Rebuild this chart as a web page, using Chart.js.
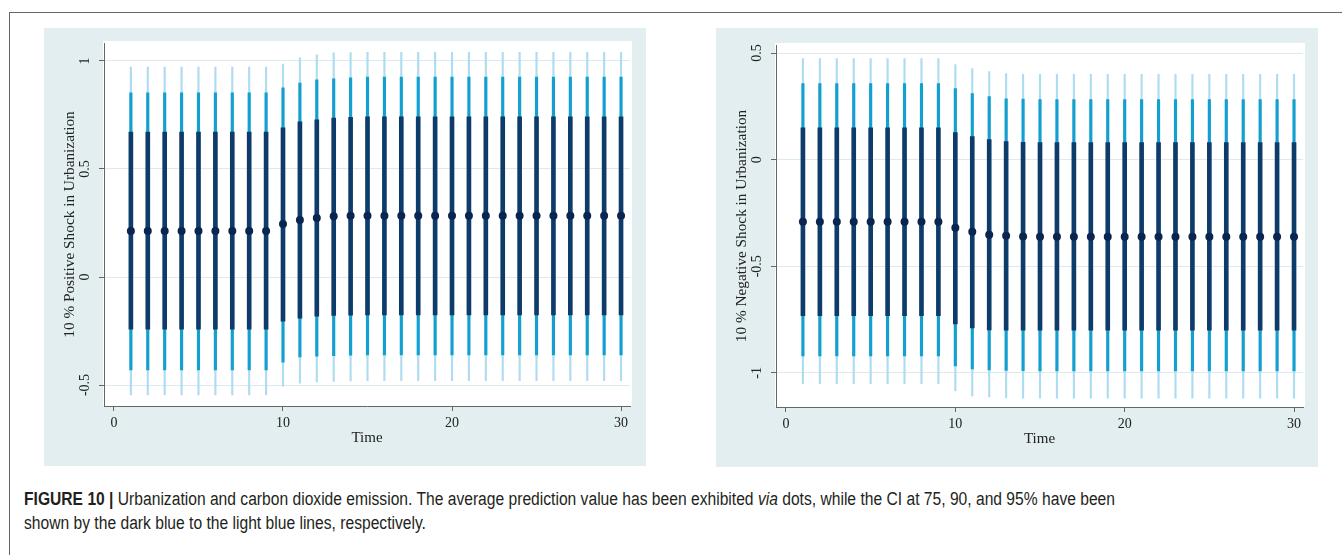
<!DOCTYPE html>
<html>
<head>
<meta charset="utf-8">
<script src="https://cdn.jsdelivr.net/npm/chart.js@4.4.0/dist/chart.umd.min.js"></script>
<style>
  body { margin: 0; background: #fff; width: 1342px; height: 555px; overflow: hidden; position: relative; }
  .frame-top { position: absolute; left: 9px; top: 12px; width: 1333px; border-top: 1px solid #666; }
  .frame-left { position: absolute; left: 9px; top: 12px; height: 543px; border-left: 1px solid #666; }
  canvas { position: absolute; background: #e2eef0; }
  #posChart { left: 44px; top: 28px; }
  #negChart { left: 716px; top: 28px; }
  .caption { position: absolute; left: 24px; font-family: 'Liberation Sans Narrow', 'Liberation Sans', Arial, sans-serif;
             font-size: 18px; line-height: 20px; color: #231f20; white-space: nowrap; transform-origin: 0 0; }
</style>
</head>
<body>
<div class="frame-top"></div>
<div class="frame-left"></div>
<canvas id="posChart" width="602" height="438"></canvas>
<canvas id="negChart" width="602" height="439"></canvas>
<div class="caption" id="cap1" style="top:489px"><b>FIGURE 10 |</b> Urbanization and carbon dioxide emission. The average prediction value has been exhibited <i>via</i> dots, while the CI at 75, 90, and 95% have been</div>
<div class="caption" id="cap2" style="top:513px">shown by the dark blue to the light blue lines, respectively.</div>
<script>
// horizon (time)
const periods = [1, 2, 3, 4, 5, 6, 7, 8, 9, 10, 11, 12, 13, 14, 15, 16, 17, 18, 19, 20, 21, 22, 23, 24, 25, 26, 27, 28, 29, 30];
const xTicks = [0, 10, 20, 30];

// 10 % positive shock
const posYTicks = [-0.5, 0, 0.5, 1];
const posMean = [0.213, 0.213, 0.213, 0.213, 0.213, 0.213, 0.213, 0.213, 0.213, 0.245, 0.264, 0.273, 0.281, 0.283, 0.284, 0.284, 0.284, 0.284, 0.284, 0.284, 0.284, 0.284, 0.284, 0.284, 0.284, 0.284, 0.284, 0.284, 0.284, 0.284];
const posLo75 = [-0.241, -0.241, -0.241, -0.241, -0.241, -0.241, -0.241, -0.241, -0.241, -0.204, -0.190, -0.181, -0.178, -0.177, -0.176, -0.176, -0.176, -0.176, -0.176, -0.176, -0.176, -0.176, -0.176, -0.176, -0.176, -0.176, -0.176, -0.176, -0.176, -0.176];
const posHi75 = [0.671, 0.671, 0.671, 0.671, 0.671, 0.671, 0.671, 0.671, 0.671, 0.690, 0.718, 0.727, 0.736, 0.739, 0.741, 0.741, 0.741, 0.741, 0.741, 0.741, 0.741, 0.741, 0.741, 0.741, 0.741, 0.741, 0.741, 0.741, 0.741, 0.741];
const posLo90 = [-0.430, -0.430, -0.430, -0.430, -0.430, -0.430, -0.430, -0.430, -0.430, -0.394, -0.370, -0.366, -0.364, -0.362, -0.361, -0.361, -0.361, -0.361, -0.361, -0.361, -0.361, -0.361, -0.361, -0.361, -0.361, -0.361, -0.361, -0.361, -0.361, -0.361];
const posHi90 = [0.852, 0.852, 0.852, 0.852, 0.852, 0.852, 0.852, 0.852, 0.852, 0.875, 0.898, 0.912, 0.917, 0.922, 0.925, 0.925, 0.925, 0.925, 0.925, 0.925, 0.925, 0.925, 0.925, 0.925, 0.925, 0.925, 0.925, 0.925, 0.925, 0.925];
const posLo95 = [-0.546, -0.546, -0.546, -0.546, -0.546, -0.546, -0.546, -0.546, -0.546, -0.505, -0.491, -0.486, -0.483, -0.481, -0.480, -0.480, -0.480, -0.480, -0.480, -0.480, -0.480, -0.480, -0.480, -0.480, -0.480, -0.480, -0.480, -0.480, -0.480, -0.480];
const posHi95 = [0.972, 0.972, 0.972, 0.972, 0.972, 0.972, 0.972, 0.972, 0.972, 0.986, 1.014, 1.028, 1.037, 1.039, 1.040, 1.040, 1.040, 1.040, 1.040, 1.040, 1.040, 1.040, 1.040, 1.040, 1.040, 1.040, 1.040, 1.040, 1.040, 1.040];

// 10 % negative shock
const negYTicks = [-1, -0.5, 0, 0.5];
const negMean = [-0.291, -0.291, -0.291, -0.291, -0.291, -0.291, -0.291, -0.291, -0.291, -0.319, -0.338, -0.352, -0.357, -0.360, -0.362, -0.362, -0.362, -0.362, -0.362, -0.362, -0.362, -0.362, -0.362, -0.362, -0.362, -0.362, -0.362, -0.362, -0.362, -0.362];
const negLo75 = [-0.732, -0.732, -0.732, -0.732, -0.732, -0.732, -0.732, -0.732, -0.732, -0.770, -0.789, -0.798, -0.800, -0.800, -0.800, -0.800, -0.800, -0.800, -0.800, -0.800, -0.800, -0.800, -0.800, -0.800, -0.800, -0.800, -0.800, -0.800, -0.800, -0.800];
const negHi75 = [0.150, 0.150, 0.150, 0.150, 0.150, 0.150, 0.150, 0.150, 0.150, 0.127, 0.108, 0.094, 0.085, 0.082, 0.080, 0.080, 0.080, 0.080, 0.080, 0.080, 0.080, 0.080, 0.080, 0.080, 0.080, 0.080, 0.080, 0.080, 0.080, 0.080];
const negLo90 = [-0.920, -0.920, -0.920, -0.920, -0.920, -0.920, -0.920, -0.920, -0.920, -0.967, -0.981, -0.986, -0.988, -0.990, -0.991, -0.991, -0.991, -0.991, -0.991, -0.991, -0.991, -0.991, -0.991, -0.991, -0.991, -0.991, -0.991, -0.991, -0.991, -0.991];
const negHi90 = [0.357, 0.357, 0.357, 0.357, 0.357, 0.357, 0.357, 0.357, 0.357, 0.333, 0.310, 0.296, 0.286, 0.284, 0.282, 0.282, 0.282, 0.282, 0.282, 0.282, 0.282, 0.282, 0.282, 0.282, 0.282, 0.282, 0.282, 0.282, 0.282, 0.282];
const negLo95 = [-1.050, -1.050, -1.050, -1.050, -1.050, -1.050, -1.050, -1.050, -1.050, -1.085, -1.108, -1.113, -1.117, -1.118, -1.118, -1.118, -1.118, -1.118, -1.118, -1.118, -1.118, -1.118, -1.118, -1.118, -1.118, -1.118, -1.118, -1.118, -1.118, -1.118];
const negHi95 = [0.474, 0.474, 0.474, 0.474, 0.474, 0.474, 0.474, 0.474, 0.474, 0.446, 0.427, 0.413, 0.404, 0.401, 0.400, 0.400, 0.400, 0.400, 0.400, 0.400, 0.400, 0.400, 0.400, 0.400, 0.400, 0.400, 0.400, 0.400, 0.400, 0.400];

const serif = "'Liberation Serif', 'Times New Roman', serif";

function intervals(lo, hi) {
    return periods.map((t, i) => ({ x: t, y: [lo[i], hi[i]] }));
}

function makeChart(id, opts) {
    const ctx = document.getElementById(id).getContext('2d');

    // white plot region + rotated y tick labels (Stata style)
    const stataLook = {
        id: 'stataLook',
        beforeDraw(chart) {
            const a = chart.chartArea;
            chart.ctx.save();
            chart.ctx.fillStyle = '#ffffff';
            chart.ctx.fillRect(a.left - 1, a.top - 2, a.right - a.left + 3, a.bottom - a.top + 2);
            chart.ctx.restore();
        },
        afterDraw(chart) {
            const c = chart.ctx;
            const ys = chart.scales.y;
            c.save();
            c.fillStyle = '#222';
            c.font = '14px ' + serif;
            c.textAlign = 'center';
            c.textBaseline = 'middle';
            opts.yTicks.forEach(v => {
                c.save();
                c.translate(41, ys.getPixelForValue(v));
                c.rotate(-Math.PI / 2);
                c.fillText(String(v), 0, 0);
                c.restore();
            });
            c.restore();
        }
    };

    return new Chart(ctx, {
        type: 'bar',
        data: {
            datasets: [
                {
                    type: 'scatter',
                    data: periods.map((t, i) => ({ x: t, y: opts.mean[i] })),
                    pointRadius: 4,
                    pointBackgroundColor: '#0c2450',
                    pointBorderWidth: 0,
                    order: 0
                },
                {
                    data: intervals(opts.lo75, opts.hi75),
                    backgroundColor: '#0d3c6a',
                    barThickness: 4,
                    order: 1
                },
                {
                    data: intervals(opts.lo90, opts.hi90),
                    backgroundColor: '#139fd0',
                    barThickness: 2.5,
                    order: 2
                },
                {
                    data: intervals(opts.lo95, opts.hi95),
                    backgroundColor: '#aedcf0',
                    barThickness: 1.5,
                    order: 3
                }
            ]
        },
        options: {
            responsive: false,
            animation: false,
            devicePixelRatio: 1,
            layout: { padding: { top: opts.top, right: opts.right, left: 0, bottom: 0 } },
            datasets: { bar: { grouped: false, borderWidth: 0 } },
            plugins: { legend: { display: false }, tooltip: { enabled: false } },
            scales: {
                x: {
                    type: 'linear',
                    offset: false,
                    min: -0.59,
                    max: 30.53,
                    afterBuildTicks: s => { s.ticks = xTicks.map(v => ({ value: v })); },
                    afterFit: s => { s.height = 60; },
                    grid: { offset: false, drawOnChartArea: false, drawTicks: true, tickLength: 5, tickColor: '#666' },
                    border: { display: true, color: '#666', width: 1 },
                    ticks: { color: '#222', font: { family: serif, size: 14 }, padding: 4, maxRotation: 0 },
                    title: { display: true, text: 'Time', color: '#222', font: { family: serif, size: 15 }, padding: { bottom: 19 } }
                },
                y: {
                    min: opts.yMin,
                    max: opts.yMax,
                    afterBuildTicks: s => { s.ticks = opts.yTicks.map(v => ({ value: v })); },
                    afterFit: s => { s.width = 60; },
                    grid: { color: '#dceaee', lineWidth: 1, drawTicks: true, tickLength: 5, tickColor: '#666' },
                    border: { display: true, color: '#666', width: 1 },
                    ticks: { display: false },
                    title: { display: true, text: opts.yTitle, color: '#222', font: { family: serif, size: 15.3 }, padding: { top: 17 } }
                }
            }
        },
        plugins: [stataLook]
    });
}

makeChart('posChart', {
    mean: posMean, lo75: posLo75, hi75: posHi75, lo90: posLo90, hi90: posHi90, lo95: posLo95, hi95: posHi95,
    yTicks: posYTicks, yMin: -0.597, yMax: 1.083, top: 15, right: 16,
    yTitle: '10 % Positive Shock in Urbanization'
});

makeChart('negChart', {
    mean: negMean, lo75: negLo75, hi75: negHi75, lo90: negLo90, hi90: negHi90, lo95: negLo95, hi95: negHi95,
    yTicks: negYTicks, yMin: -1.16, yMax: 0.538, top: 17, right: 15,
    yTitle: '10 % Negative Shock in Urbanization'
});

// fit the caption to the width it has in the figure
const cap1 = document.getElementById('cap1');
const cap2 = document.getElementById('cap2');
const k = 1091 / cap1.getBoundingClientRect().width;
cap1.style.transform = 'scaleX(' + k + ')';
cap2.style.transform = 'scaleX(' + k + ')';
</script>
</body>
</html>
